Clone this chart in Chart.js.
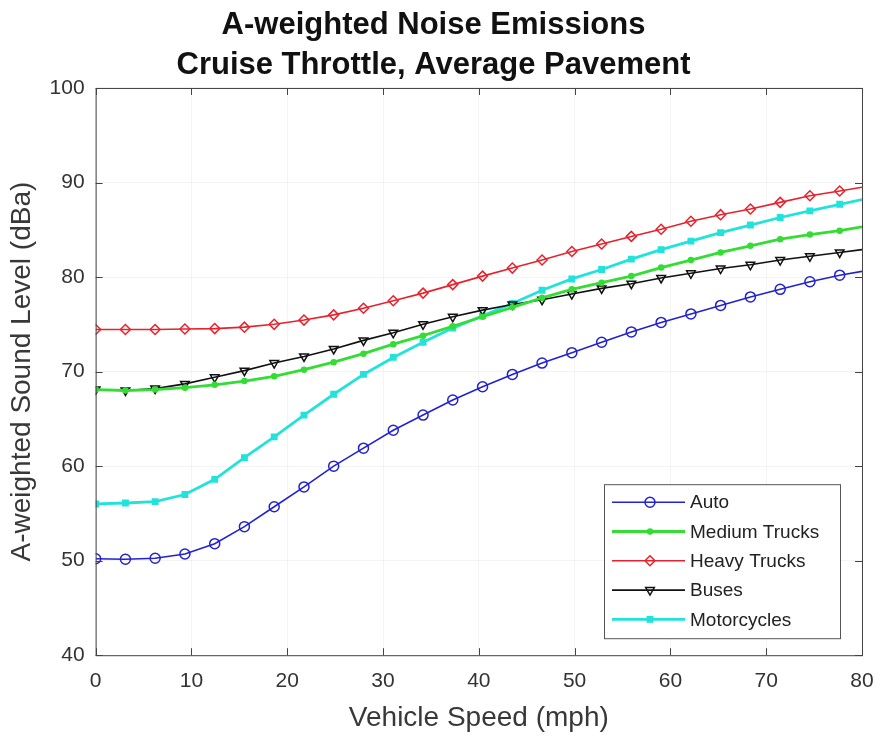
<!DOCTYPE html>
<html>
<head>
<meta charset="utf-8">
<script src="https://cdn.jsdelivr.net/npm/chart.js@4/dist/chart.umd.min.js"></script>
<style>
  html, body { margin: 0; padding: 0; background: #fff; }
  #wrap { width: 880px; height: 736px; }
</style>
</head>
<body>
<div id="wrap"><canvas id="chart" width="880" height="736"></canvas></div>
<script>
// speeds in mph (5 km/h steps) plus the line end at 80 mph
const speeds = [0, 3.11, 6.21, 9.32, 12.43, 15.53, 18.64, 21.75, 24.85, 27.96, 31.07, 34.18, 37.28, 40.39,
  43.50, 46.60, 49.71, 52.82, 55.92, 59.03, 62.14, 65.24, 68.35, 71.46, 74.56, 77.67, 80];

const auto = [50.2, 50.15, 50.25, 50.7, 51.8, 53.6, 55.7, 57.8, 60.0, 61.9, 63.8, 65.4, 67.0, 68.4,
  69.7, 70.9, 72.0, 73.1, 74.2, 75.2, 76.1, 77.0, 77.9, 78.7, 79.5, 80.2, 80.6];
const mediumTrucks = [68.1, 68.0, 68.1, 68.3, 68.6, 69.0, 69.5, 70.2, 71.0, 71.9, 72.9, 73.8, 74.8, 75.8,
  76.8, 77.8, 78.7, 79.4, 80.1, 81.0, 81.8, 82.6, 83.3, 84.0, 84.5, 84.9, 85.3];
const heavyTrucks = [74.45, 74.45, 74.45, 74.5, 74.55, 74.7, 75.0, 75.45, 76.0, 76.7, 77.5, 78.3, 79.2, 80.1,
  80.95, 81.8, 82.7, 83.5, 84.3, 85.05, 85.9, 86.6, 87.2, 87.9, 88.6, 89.1, 89.5];
const buses = [68.1, 68.0, 68.2, 68.7, 69.4, 70.1, 70.9, 71.6, 72.4, 73.3, 74.1, 75.0, 75.8, 76.5,
  77.1, 77.6, 78.2, 78.8, 79.3, 79.9, 80.4, 80.9, 81.3, 81.8, 82.2, 82.6, 82.9];
const motorcycles = [56.0, 56.1, 56.25, 57.0, 58.6, 60.9, 63.1, 65.4, 67.6, 69.7, 71.5, 73.1, 74.6, 75.9,
  77.2, 78.6, 79.8, 80.8, 81.9, 82.9, 83.8, 84.7, 85.5, 86.3, 87.0, 87.7, 88.2];

const xTicks = [0, 10, 20, 30, 40, 50, 60, 70, 80];
const yTicks = [40, 50, 60, 70, 80, 90, 100];

const FONT = "'Liberation Sans', Arial, sans-serif";

function toPoints(values) {
  return values.map((v, i) => ({ x: speeds[i], y: v }));
}

// no marker on the final line point at 80 mph
function radii(r) {
  return speeds.map((s, i) => (i === speeds.length - 1 ? 0 : r));
}

function makeSet(label, values, color, style, r, lineW, fill, rot) {
  return {
    label: label,
    data: toPoints(values),
    borderColor: color,
    backgroundColor: color,
    borderWidth: lineW,
    pointStyle: style,
    pointRadius: radii(r),
    pointHoverRadius: radii(r),
    pointBorderWidth: 1.5,
    pointBorderColor: color,
    pointBackgroundColor: fill,
    pointRotation: rot || 0,
    tension: 0,
    fill: false,
  };
}

const datasets = [
  makeSet("Auto", auto, "#2222d0", "circle", 5, 1.6, "rgba(0,0,0,0)"),
  makeSet("Medium Trucks", mediumTrucks, "#33dd33", "circle", 2.5, 2.8, "#33dd33"),
  makeSet("Heavy Trucks", heavyTrucks, "#e8222c", "rectRot", 5, 1.6, "rgba(0,0,0,0)"),
  makeSet("Buses", buses, "#111111", "triangle", 5, 1.6, "rgba(0,0,0,0)", 180),
  makeSet("Motorcycles", motorcycles, "#22e2dc", "rect", 3.8, 2.8, "#22e2dc"),
];

// box around the plot area with inward ticks, MATLAB style
const boxPlugin = {
  id: "box",
  afterDatasetsDraw(chart) {
    const ctx = chart.ctx;
    const a = chart.chartArea;
    const xs = chart.scales.x, ys = chart.scales.y;
    ctx.save();
    ctx.strokeStyle = "#444";
    ctx.lineWidth = 1;
    ctx.strokeRect(a.left + 0.5, a.top + 0.5, a.right - a.left, a.bottom - a.top);
    ctx.beginPath();
    xTicks.forEach(t => {
      const px = Math.round(xs.getPixelForValue(t)) + 0.5;
      ctx.moveTo(px, a.bottom); ctx.lineTo(px, a.bottom - 7);
      ctx.moveTo(px, a.top); ctx.lineTo(px, a.top + 7);
    });
    yTicks.forEach(t => {
      const py = Math.round(ys.getPixelForValue(t)) + 0.5;
      ctx.moveTo(a.left, py); ctx.lineTo(a.left + 7, py);
      ctx.moveTo(a.right, py); ctx.lineTo(a.right - 7, py);
    });
    ctx.stroke();
    ctx.restore();
  },
  afterDraw(chart) {
    // legend box in the lower right corner of the plot
    const ctx = chart.ctx;
    const a = chart.chartArea;
    const w = 236, h = 154;
    const x0 = a.right - 22 - w, y0 = a.bottom - 17 - h;
    ctx.save();
    ctx.fillStyle = "#fff";
    ctx.fillRect(x0, y0, w, h);
    ctx.strokeStyle = "#555";
    ctx.lineWidth = 1;
    ctx.strokeRect(x0 + 0.5, y0 + 0.5, w, h);
    ctx.font = "19px " + FONT;
    ctx.textBaseline = "middle";
    chart.data.datasets.forEach((ds, i) => {
      const y = y0 + 18 + i * 29.3;
      ctx.strokeStyle = ds.borderColor;
      ctx.lineWidth = ds.borderWidth;
      ctx.beginPath();
      ctx.moveTo(x0 + 8, y);
      ctx.lineTo(x0 + 81, y);
      ctx.stroke();
      ctx.fillStyle = ds.pointBackgroundColor;
      ctx.strokeStyle = ds.borderColor;
      ctx.lineWidth = ds.pointBorderWidth;
      Chart.helpers.drawPoint(ctx, {
        pointStyle: ds.pointStyle,
        radius: ds.pointRadius[0],
        rotation: ds.pointRotation,
        borderWidth: ds.pointBorderWidth,
      }, x0 + 46, y);
      ctx.fillStyle = "#222";
      ctx.fillText(ds.label, x0 + 86, y + 1);
    });
    ctx.restore();
  },
};

new Chart(document.getElementById("chart").getContext("2d"), {
  type: "line",
  data: { datasets: datasets },
  plugins: [boxPlugin],
  options: {
    responsive: false,
    animation: false,
    layout: { padding: { left: 5, right: 18, top: 0, bottom: 1 } },
    plugins: {
      legend: { display: false },
      tooltip: { enabled: false },
      title: {
        display: true,
        text: ["A-weighted Noise Emissions", "Cruise Throttle, Average Pavement"],
        color: "#111",
        font: { family: FONT, size: 31, weight: "bold", lineHeight: 1.29 },
        padding: { top: 5, bottom: 3 },
      },
    },
    scales: {
      x: {
        type: "linear",
        min: 0,
        max: 80,
        afterBuildTicks: axis => { axis.ticks = xTicks.map(v => ({ value: v })); },
        afterFit: axis => { axis.paddingRight = 0; },
        grid: { color: "rgba(0,0,0,0.045)", drawTicks: false },
        border: { display: false },
        ticks: { color: "#333", font: { family: FONT, size: 21 }, padding: 13, maxRotation: 0 },
        title: {
          display: true,
          text: "Vehicle Speed (mph)",
          color: "#383838",
          font: { family: FONT, size: 28 },
          padding: { top: -5, bottom: 0 },
        },
      },
      y: {
        min: 40,
        max: 100,
        afterBuildTicks: axis => { axis.ticks = yTicks.map(v => ({ value: v })); },
        grid: { color: "rgba(0,0,0,0.045)", drawTicks: false },
        border: { display: false },
        ticks: { color: "#333", font: { family: FONT, size: 21 }, padding: 11 },
        title: {
          display: true,
          text: "A-weighted Sound Level (dBa)",
          color: "#383838",
          font: { family: FONT, size: 28 },
          padding: { top: 0, bottom: 0 },
        },
      },
    },
  },
});
</script>
</body>
</html>
